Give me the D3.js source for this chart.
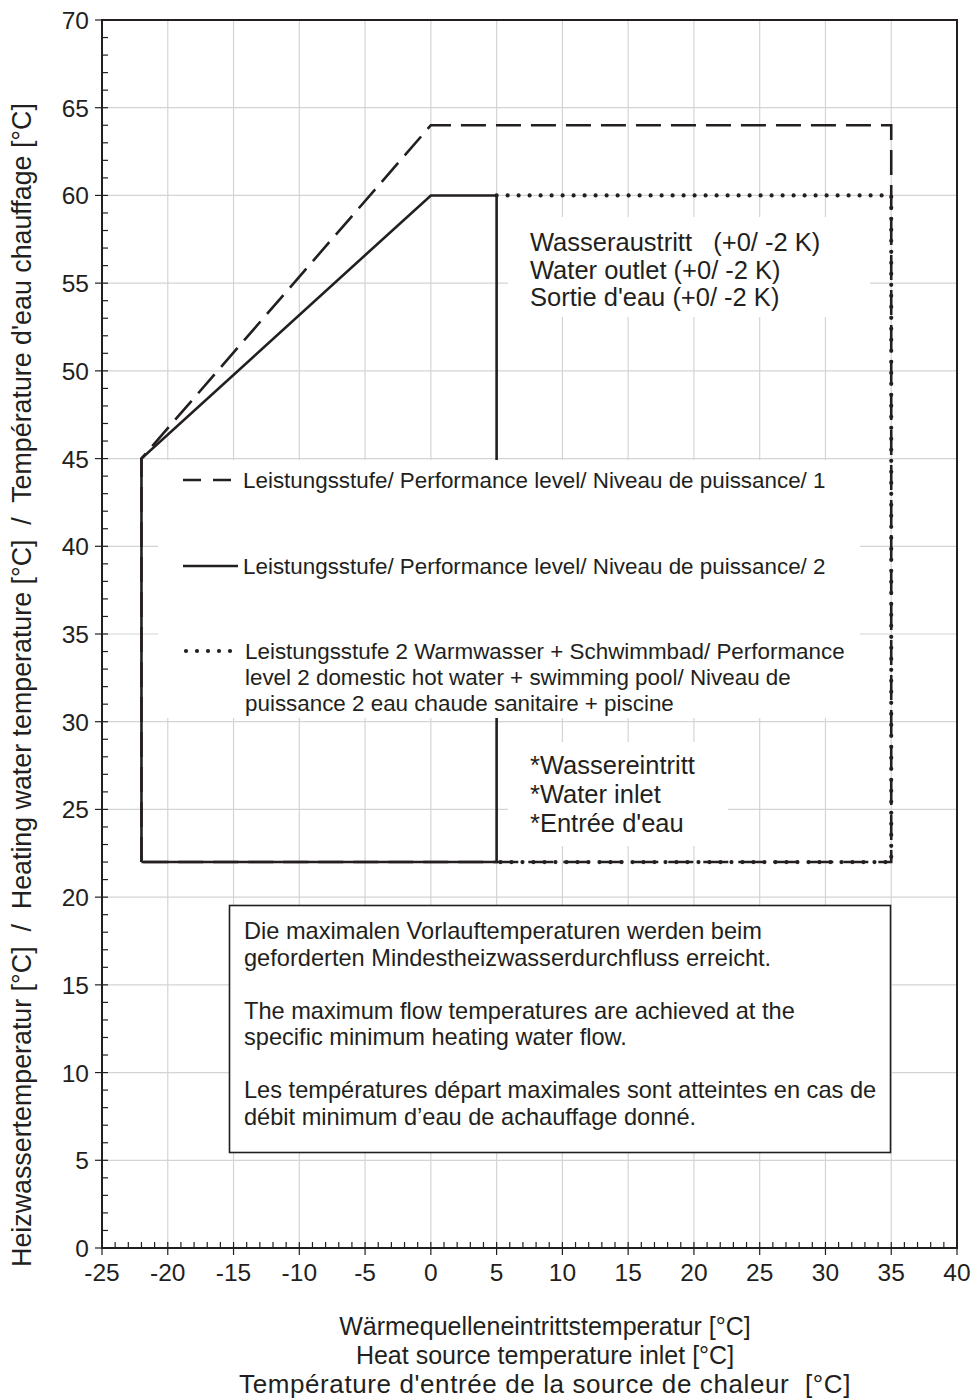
<!DOCTYPE html>
<html>
<head>
<meta charset="utf-8">
<script src="https://cdn.jsdelivr.net/npm/d3@7"></script>
<style>
  body { margin: 0; background: #fff; }
  text { font-family: "Liberation Sans", Arial, sans-serif; fill: #231f20; white-space: pre; }
</style>
</head>
<body>
<svg class="chart" width="974" height="1400"></svg>
<script>
// operating envelope corners [source temp, water temp]
var level1 = [[-22, 22], [-22, 45], [0, 64], [35, 64], [35, 22], [-22, 22]];
var level2 = [[-22, 22], [-22, 45], [0, 60], [5, 60], [5, 22], [-22, 22]];
var level2dhw = [[5, 60], [35, 60], [35, 22], [5, 22]];

var xTicks = [-25, -20, -15, -10, -5, 0, 5, 10, 15, 20, 25, 30, 35, 40];
var yTicks = [0, 5, 10, 15, 20, 25, 30, 35, 40, 45, 50, 55, 60, 65, 70];

var legendLabels = [
    ["Leistungsstufe/ Performance level/ Niveau de puissance/ 1"],
    ["Leistungsstufe/ Performance level/ Niveau de puissance/ 2"],
    ["Leistungsstufe 2 Warmwasser + Schwimmbad/ Performance",
     "level 2 domestic hot water + swimming pool/ Niveau de",
     "puissance 2 eau chaude sanitaire + piscine"]
];
var outletLines = ["Wasseraustritt   (+0/ -2 K)", "Water outlet (+0/ -2 K)", "Sortie d'eau (+0/ -2 K)"];
var inletLines = ["*Wassereintritt", "*Water inlet", "*Entrée d'eau"];
var noteLines = [
    "Die maximalen Vorlauftemperaturen werden beim",
    "geforderten Mindestheizwasserdurchfluss erreicht.",
    "",
    "The maximum flow temperatures are achieved at the",
    "specific minimum heating water flow.",
    "",
    "Les températures départ maximales sont atteintes en cas de",
    "débit minimum d\u2019eau de achauffage donné."
];
var xTitle = ["Wärmequelleneintrittstemperatur [°C]", "Heat source temperature inlet [°C]",
    "Température d'entrée de la source de chaleur  [°C]"];
var yTitle = "Heizwassertemperatur [°C]  /  Heating water temperature [°C]  /  Température d'eau chauffage [°C]";

var ink = "#231f20";
var svg = d3.select("svg.chart");

var x = d3.scaleLinear().domain([-25, 40]).range([102, 957]);
var y = d3.scaleLinear().domain([0, 70]).range([1248, 20]);

// grid
var grid = svg.append("g").attr("class", "grid");
grid.selectAll("line.gx")
    .data(xTicks.slice(1, -1))
    .enter().append("line")
        .attr("x1", d => x(d)).attr("x2", d => x(d))
        .attr("y1", y(0)).attr("y2", y(70))
        .style("stroke", "#d4d4d4").style("stroke-width", 1.2);
grid.selectAll("line.gy")
    .data(yTicks.slice(1, -1))
    .enter().append("line")
        .attr("x1", x(-25)).attr("x2", x(40))
        .attr("y1", d => y(d)).attr("y2", d => y(d))
        .style("stroke", "#d4d4d4").style("stroke-width", 1.2);

// series
var line = d3.line().x(d => x(d[0])).y(d => y(d[1]));
var series = [
    {data: level1, dash: "25 10", width: 2.6, cap: "butt"},
    {data: level2, dash: null, width: 2.6, cap: "butt"},
    {data: level2dhw, dash: "0 11", width: 4.2, cap: "round"}
];
svg.append("g").selectAll("path")
    .data(series)
    .enter().append("path")
        .attr("d", d => line(d.data))
        .style("fill", "none")
        .style("stroke", ink)
        .style("stroke-width", d => d.width)
        .style("stroke-dasharray", d => d.dash)
        .style("stroke-linecap", d => d.cap)
        .style("stroke-linejoin", "miter");

// white boxes behind text blocks
var boxes = [[158, 460, 702, 258], [508, 217, 362, 100], [508, 742, 220, 104]];
svg.append("g").selectAll("rect")
    .data(boxes)
    .enter().append("rect")
        .attr("x", d => d[0]).attr("y", d => d[1])
        .attr("width", d => d[2]).attr("height", d => d[3])
        .style("fill", "#fff");

// legend
var legendY = [480, 566, 651];
var leg = svg.append("g").attr("class", "legend");
leg.selectAll("line")
    .data(series)
    .enter().append("line")
        .attr("x1", (d, i) => i == 2 ? 186 : 183)
        .attr("x2", (d, i) => i == 2 ? 232 : 238)
        .attr("y1", (d, i) => legendY[i]).attr("y2", (d, i) => legendY[i])
        .style("stroke", ink)
        .style("stroke-width", d => d.width)
        .style("stroke-dasharray", (d, i) => i == 0 ? "18 12" : d.dash)
        .style("stroke-linecap", d => d.cap);
legendLabels.forEach(function(lines, i) {
    var x0 = i == 2 ? 245 : 243;
    leg.append("g").selectAll("text")
        .data(lines)
        .enter().append("text")
            .attr("x", x0)
            .attr("y", (d, j) => legendY[i] + 8 + j * 26)
            .style("font-size", "22.4px")
            .text(d => d);
});

// outlet / inlet / note text
function block(lines, x0, y0, dy, size) {
    svg.append("g").selectAll("text")
        .data(lines)
        .enter().append("text")
            .attr("x", x0)
            .attr("y", (d, j) => y0 + j * dy)
            .style("font-size", size)
            .text(d => d);
}
block(outletLines, 530, 251, 27.5, "25.5px");
block(inletLines, 530, 774, 29, "25.5px");

svg.append("rect")
    .attr("x", 229.5).attr("y", 905.5)
    .attr("width", 661).attr("height", 247)
    .style("fill", "#fff")
    .style("stroke", ink)
    .style("stroke-width", 1.6);
block(noteLines, 244, 939, 26.5, "23.6px");

// frame
svg.append("rect")
    .attr("x", x(-25)).attr("y", y(70))
    .attr("width", x(40) - x(-25)).attr("height", y(0) - y(70))
    .style("fill", "none")
    .style("stroke", ink)
    .style("stroke-width", 2);

// minor ticks
var minorX = d3.range(-25, 40, 1).filter(d => d % 5 != 0);
var minorY = d3.range(0, 70, 1).filter(d => d % 5 != 0);
var ticks = svg.append("g").style("stroke", ink).style("stroke-width", 1.2);
ticks.selectAll("line.mx")
    .data(minorX).enter().append("line")
        .attr("x1", d => x(d)).attr("x2", d => x(d))
        .attr("y1", y(0)).attr("y2", y(0) - 6);
ticks.selectAll("line.my")
    .data(minorY).enter().append("line")
        .attr("x1", x(-25)).attr("x2", x(-25) + 6)
        .attr("y1", d => y(d)).attr("y2", d => y(d));
ticks.selectAll("line.Mx")
    .data(xTicks).enter().append("line")
        .attr("x1", d => x(d)).attr("x2", d => x(d))
        .attr("y1", y(0) - 6).attr("y2", y(0) + 7);
ticks.selectAll("line.My")
    .data(yTicks).enter().append("line")
        .attr("x1", x(-25) - 7).attr("x2", x(-25) + 6)
        .attr("y1", d => y(d)).attr("y2", d => y(d));

// tick labels
svg.append("g").selectAll("text")
    .data(xTicks).enter().append("text")
        .attr("x", d => x(d)).attr("y", y(0) + 33)
        .attr("text-anchor", "middle")
        .style("font-size", "24.5px")
        .text(d => d);
svg.append("g").selectAll("text")
    .data(yTicks).enter().append("text")
        .attr("x", x(-25) - 13).attr("y", d => y(d) + 9)
        .attr("text-anchor", "end")
        .style("font-size", "24.5px")
        .text(d => d);

// axis titles
svg.append("g").selectAll("text")
    .data(xTitle).enter().append("text")
        .attr("x", 545).attr("y", (d, i) => 1335 + i * 29)
        .attr("text-anchor", "middle")
        .style("font-size", (d, i) => i == 2 ? "26px" : "25px")
        .style("letter-spacing", (d, i) => i == 2 ? "0.6px" : null)
        .text(d => d);
svg.append("text")
    .attr("transform", "translate(31,685) rotate(-90)")
    .attr("text-anchor", "middle")
    .style("font-size", "26.8px")
    .text(yTitle);
</script>
</body>
</html>
